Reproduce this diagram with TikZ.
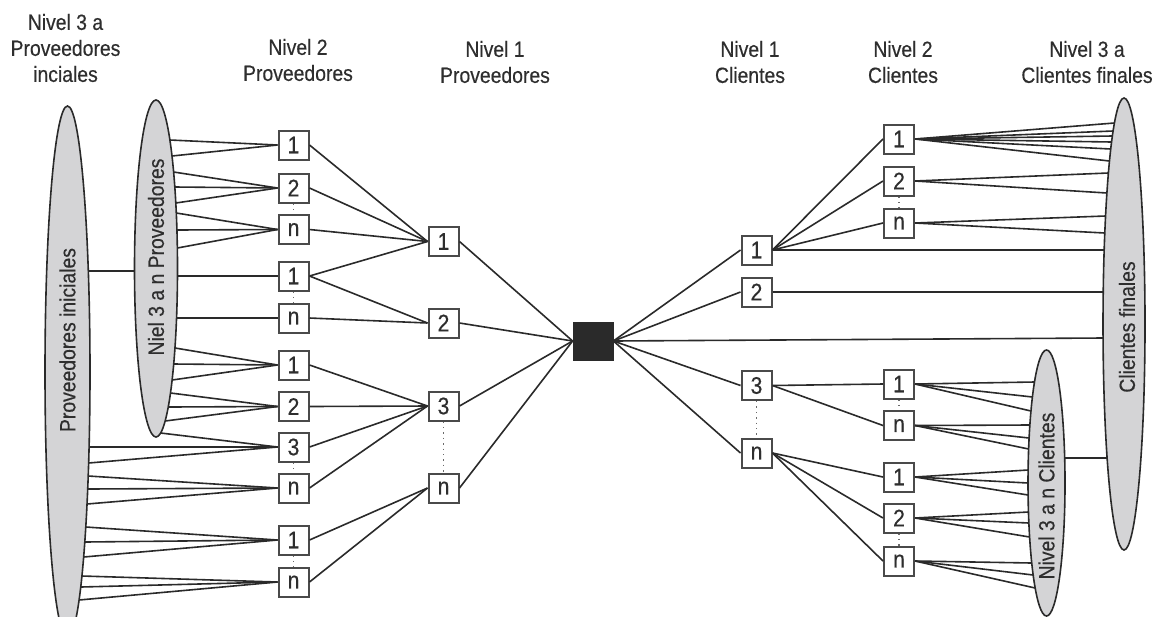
\documentclass[tikz,border=0pt]{standalone}
\usepackage{fontspec}
\setmainfont{Liberation Sans}[FakeStretch=0.88,FakeBold=0.4]
\usetikzlibrary{shapes.geometric}
\definecolor{ell}{HTML}{D4D4D6}
\definecolor{ink}{HTML}{2A2A2A}
\definecolor{txt}{HTML}{2E2E2E}
\newcommand\fanleft[6]{% node, cx, a, cy, b, y-list (points on right side of ellipse)
  \foreach \yy in {#6}{%
    \pgfmathsetmacro\xx{#2+#3*sqrt(1-((\yy-#4)/#5)^2)}%
    \coordinate (e-#1-\yy) at (\xx,\yy);
    \draw[link] (#1.west) -- (e-#1-\yy);}}
\newcommand\fanright[6]{% node, cx, a, cy, b, y-list (points on left side of ellipse)
  \foreach \yy in {#6}{%
    \pgfmathsetmacro\xx{#2-#3*sqrt(1-((\yy-#4)/#5)^2)}%
    \coordinate (e-#1-\yy) at (\xx,\yy);
    \draw[link] (#1.east) -- (e-#1-\yy);}}
\begin{document}
\begin{tikzpicture}[x=0.5pt,y=-0.5pt,
  box/.style={draw=ink!85, line width=1pt, fill=white, minimum width=15pt,
    minimum height=14.5pt, inner sep=0pt, font=\fontsize{12}{13}\selectfont, text=txt},
  hub/.style={fill=ink, draw=ink, minimum width=20pt, minimum height=19pt, inner sep=0pt},
  link/.style={draw=ink, line width=0.8pt},
  dots/.style={draw=ink!70, dotted, line width=0.7pt},
  cloud/.style={ellipse, draw=ink, line width=0.8pt, fill=ell, inner sep=0pt},
  head/.style={align=center, font=\fontsize{11}{13}\selectfont, text=txt},
]
\useasboundingbox (0,0) rectangle (1159,616);
\clip (0,0) rectangle (1159,616);

% ellipses
\node[cloud, minimum width=22.5pt, minimum height=266pt] (pi) at (67.5,372) {};
\node[cloud, minimum width=21.5pt, minimum height=168.5pt] (n3p) at (156,268.5) {};
\node[cloud, minimum width=21pt, minimum height=226pt] (cf) at (1124,324) {};
\node[cloud, minimum width=18.5pt, minimum height=133pt] (n3c) at (1046.5,483) {};
\node[head, rotate=90] (tpi) at (67.5,340) {Proveedores iniciales};
\node[head, rotate=90] (tn3p) at (156,257) {Niel 3 a n Proveedores};
\node[head, rotate=90] (tcf) at (1127,327) {Clientes finales};
\node[head, rotate=90] (tn3c) at (1046.5,496) {Nivel 3 a n Clientes};

% headers
\node[head] (h1) at (65.5,48) {Nivel 3 a\\Proveedores\\inciales};
\node[head] (h2) at (298,60) {Nivel 2\\Proveedores};
\node[head] (h3) at (495,62) {Nivel 1\\Proveedores};
\node[head] (h4) at (750,62) {Nivel 1\\Clientes};
\node[head] (h5) at (903,62) {Nivel 2\\Clientes};
\node[head] (h6) at (1087,62) {Nivel 3 a\\Clientes finales};

% level 2 suppliers
\node[box] (pa1) at (293.5,145) {1};
\node[box] (pa2) at (293.5,188) {2};
\node[box] (pan) at (293.5,229.5) {n};
\node[box] (pb1) at (293.5,276) {1};
\node[box] (pbn) at (293.5,318) {n};
\node[box] (pc1) at (293.5,365) {1};
\node[box] (pc2) at (293.5,406.5) {2};
\node[box] (pc3) at (293.5,447) {3};
\node[box] (pcn) at (293.5,488) {n};
\node[box] (pd1) at (293.5,540) {1};
\node[box] (pdn) at (293.5,582) {n};
% level 1 suppliers
\node[box] (q1) at (443.5,241.5) {1};
\node[box] (q2) at (443.5,323) {2};
\node[box] (q3) at (443.5,406) {3};
\node[box] (qn) at (443.5,488) {n};
% hub
\node[hub] (hub) at (593,341) {};
% level 1 clients
\node[box] (c1) at (756.5,250) {1};
\node[box] (c2) at (756.5,292) {2};
\node[box] (c3) at (756.5,385.5) {3};
\node[box] (cn) at (756.5,453) {n};
% level 2 clients
\node[box] (da1) at (899,139) {1};
\node[box] (da2) at (899,181) {2};
\node[box] (dan) at (899,223) {n};
\node[box] (db1) at (899,384) {1};
\node[box] (dbn) at (899,425.5) {n};
\node[box] (dc1) at (899,477) {1};
\node[box] (dc2) at (899,518) {2};
\node[box] (dcn) at (899,561) {n};

% bridges between ellipses
\pgfmathsetmacro\bxa{67.5+22.5*sqrt(1-((271-372)/266)^2)}
\pgfmathsetmacro\bxb{156-21.5*sqrt(1-((271-268.5)/168.5)^2)}
\coordinate (bl1) at (\bxa,271);
\coordinate (bl2) at (\bxb,271);
\draw[link] (bl1) -- (bl2);
\pgfmathsetmacro\bxc{1046.5+18.5*sqrt(1-((458-483)/133)^2)}
\pgfmathsetmacro\bxd{1124-21*sqrt(1-((458-324)/226)^2)}
\coordinate (br1) at (\bxc,458);
\coordinate (br2) at (\bxd,458);
\draw[link] (br1) -- (br2);

% fans on the left
\fanleft{pa1}{156}{21.5}{268.5}{168.5}{140,156}
\fanleft{pa2}{156}{21.5}{268.5}{168.5}{172,187,203}
\fanleft{pan}{156}{21.5}{268.5}{168.5}{213,230,248}
\fanleft{pb1}{156}{21.5}{268.5}{168.5}{276}
\fanleft{pbn}{156}{21.5}{268.5}{168.5}{318}
\fanleft{pc1}{156}{21.5}{268.5}{168.5}{348,364,380}
\fanleft{pc2}{156}{21.5}{268.5}{168.5}{393,407,421}
\fanleft{pc3}{156}{21.5}{268.5}{168.5}{433}
\fanleft{pc3}{67.5}{22.5}{372}{266}{447,463}
\fanleft{pcn}{67.5}{22.5}{372}{266}{476,489,504}
\fanleft{pd1}{67.5}{22.5}{372}{266}{527,542,557}
\fanleft{pdn}{67.5}{22.5}{372}{266}{576,587,600}

% fans on the right
\fanright{da1}{1124}{21}{324}{226}{123,131,136,142,149,161}
\fanright{da2}{1124}{21}{324}{226}{173,193}
\fanright{dan}{1124}{21}{324}{226}{216,233}
\fanright{c1}{1124}{21}{324}{226}{250}
\fanright{c2}{1124}{21}{324}{226}{292}
\fanright{hub}{1124}{21}{324}{226}{338}
\fanright{db1}{1046.5}{18.5}{483}{133}{382,397,411}
\fanright{dbn}{1046.5}{18.5}{483}{133}{425,438,449}
\fanright{dc1}{1046.5}{18.5}{483}{133}{470,483,495}
\fanright{dc2}{1046.5}{18.5}{483}{133}{512,523,537}
\fanright{dcn}{1046.5}{18.5}{483}{133}{563,575,588}

% supplier tree
\foreach \s in {pa1,pa2,pan,pb1} \draw[link] (\s.east) -- (q1.west);
\foreach \s in {pb1,pbn} \draw[link] (\s.east) -- (q2.west);
\foreach \s in {pc1,pc2,pc3,pcn} \draw[link] (\s.east) -- (q3.west);
\foreach \s in {pd1,pdn} \draw[link] (\s.east) -- (qn.west);
\foreach \s in {q1,q2,q3,qn} \draw[link] (\s.east) -- (hub.west);
% client tree
\foreach \s in {c1,c2,c3,cn} \draw[link] (hub.east) -- (\s.west);
\foreach \s in {da1,da2,dan} \draw[link] (c1.east) -- (\s.west);
\foreach \s in {db1,dbn} \draw[link] (c3.east) -- (\s.west);
\foreach \s in {dc1,dc2,dcn} \draw[link] (cn.east) -- (\s.west);

% dotted continuation marks
\draw[dots] (pa2.south) -- (pan.north);
\draw[dots] (pb1.south) -- (pbn.north);
\draw[dots] (pc3.south) -- (pcn.north);
\draw[dots] (pd1.south) -- (pdn.north);
\draw[dots] (q3.south) -- (qn.north);
\draw[dots] (c3.south) -- (cn.north);
\draw[dots] (da2.south) -- (dan.north);
\draw[dots] (db1.south) -- (dbn.north);
\draw[dots] (dc2.south) -- (dcn.north);
\end{tikzpicture}
\end{document}
